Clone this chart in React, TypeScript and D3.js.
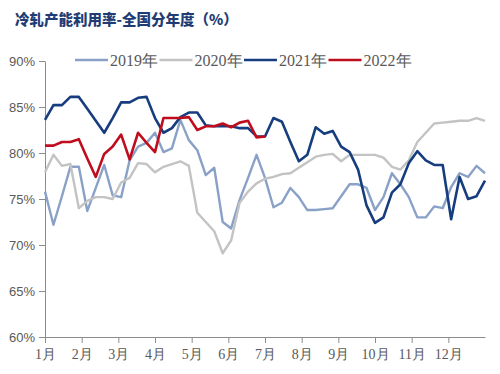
import { useEffect, useRef } from 'react';
import * as d3 from 'd3';

// weekly utilisation rate (%), week index 0..52
const months = ['1月', '2月', '3月', '4月', '5月', '6月', '7月', '8月', '9月', '10月', '11月', '12月'];
const yTicks = [60, 65, 70, 75, 80, 85, 90];
const seriesNames = ['2019年', '2020年', '2021年', '2022年'];
const seriesColors = ['#8aa1c7', '#c3c3c3', '#163d7e', '#c00d1e'];

const y2019 = [
  75.8, 72.2, 75.3, 78.5, 78.5, 73.7, 76.2, 78.7, 75.4, 75.2, 79.2, 80.7, 81.1, 82.2,
  80.1, 80.5, 83.6, 81.4, 80.3, 77.6, 78.4, 72.5, 71.8, 74.9, 77.3, 79.8, 77.3, 74.1,
  74.6, 76.2, 75.2, 73.8, 73.8, 73.9, 74.0, 75.3, 76.6, 76.6, 76.2, 73.8, 75.2, 77.8,
  76.6, 75.2, 73.0, 73.0, 74.2, 74.0, 76.3, 77.8, 77.4, 78.6, 77.8,
];
const y2020 = [
  77.9, 79.8, 78.6, 78.8, 74.0, 74.8, 75.2, 75.2, 75.0, 76.8, 77.3, 78.9, 78.8, 77.9,
  78.5, 78.8, 79.1, 78.6, 73.5, 72.5, 71.5, 69.1, 70.5, 74.6, 75.8, 76.7, 77.2, 77.4,
  77.7, 77.8, 78.4, 79.0, 79.6, 79.8, 79.9, 79.1, 79.8, 79.8, 79.8, 79.8, 79.5, 78.5,
  78.2, 79.2, 81.2, 82.2, 83.2, 83.3, 83.4, 83.5, 83.5, 83.8, 83.5,
];
const y2021 = [
  83.6, 85.2, 85.2, 86.1, 86.1, 84.8, 83.5, 82.2, 83.8, 85.5, 85.5, 86.0, 86.1, 83.8,
  82.2, 82.7, 83.9, 84.4, 84.4, 83.0, 82.9, 82.9, 82.9, 82.7, 82.7, 81.8, 81.8, 83.8,
  83.4, 81.2, 79.1, 79.8, 82.8, 82.1, 82.4, 80.7, 80.1, 78.2, 74.3, 72.4, 73.0, 75.7,
  76.6, 78.9, 80.2, 79.2, 78.7, 78.7, 72.8, 77.4, 75.0, 75.3, 77.0,
];
const y2022 = [
  80.8, 80.8, 81.2, 81.2, 81.5, 79.4, 77.4, 79.9, 80.7, 82.0, 79.3, 82.2, 81.1, 80.1,
  83.8, 83.8, 83.8, 83.9, 82.5, 82.9, 82.9, 83.2, 82.8, 83.3, 83.5, 81.7, 81.8,
];

const App = () => {
  const chartRef = useRef<SVGSVGElement | null>(null);

  useEffect(() => {
    if (!chartRef.current) return;
    const svg = d3.select(chartRef.current);
    svg.selectAll('*').remove();

    const width = 500;
    const height = 374;
    const margin = { top: 61, right: 15, bottom: 37, left: 45 };
    const axisColor = '#8c8c8c';
    const textColor = '#595959';

    svg.attr('width', width).attr('height', height);

    const x = d3.scaleLinear().domain([0, 52]).range([margin.left, width - margin.right]);
    const y = d3.scaleLinear().domain([60, 90]).range([height - margin.bottom, margin.top]);

    // Title
    svg.append('text')
      .attr('x', 15)
      .attr('y', 25)
      .style('font-family', '"Noto Sans CJK SC", sans-serif')
      .style('font-weight', 900)
      .style('font-size', '14.5px')
      .attr('fill', '#1f3d74')
      .text('冷轧产能利用率-全国分年度（%）');

    // Y axis
    const yAxis = svg.append('g')
      .attr('transform', `translate(${margin.left},0)`)
      .call(d3.axisLeft(y).tickValues(yTicks).tickFormat(d => `${d}%`).tickSize(6).tickSizeOuter(0).tickPadding(4));
    yAxis.select('.domain').attr('stroke', axisColor);
    yAxis.selectAll('.tick line').attr('stroke', axisColor);
    yAxis.selectAll('.tick text')
      .attr('fill', textColor)
      .style('font-family', '"Liberation Sans", sans-serif')
      .style('font-size', '13px');

    // X axis
    const monthPos = months.map((_, i) => (i * 52) / 12);
    const xAxis = svg.append('g')
      .attr('transform', `translate(0,${height - margin.bottom})`)
      .call(d3.axisBottom(x).tickValues(monthPos).tickFormat((_, i) => months[i]).tickSize(6).tickSizeOuter(0).tickPadding(6));
    xAxis.select('.domain').attr('stroke', axisColor);
    xAxis.selectAll('.tick line').attr('stroke', axisColor);
    xAxis.selectAll('.tick text')
      .attr('fill', textColor)
      .style('font-family', '"Liberation Serif", serif')
      .style('font-size', '14px');

    // Lines
    const allSeries = [y2019, y2020, y2021, y2022];
    const line = d3.line<number>()
      .x((_, i) => x(i))
      .y(d => y(d));

    allSeries.forEach((vals, k) => {
      svg.append('path')
        .datum(vals)
        .attr('fill', 'none')
        .attr('stroke', seriesColors[k])
        .attr('stroke-width', k >= 2 ? 2.6 : 2.4)
        .attr('stroke-linejoin', 'round')
        .attr('d', line);
    });

    // Legend
    const legend = svg.append('g').attr('transform', 'translate(75,60)');
    seriesNames.forEach((name, k) => {
      const item = legend.append('g').attr('transform', `translate(${k * 84.5},0)`);
      item.append('line')
        .attr('x1', 0).attr('x2', 33)
        .attr('y1', 0).attr('y2', 0)
        .attr('stroke', seriesColors[k])
        .attr('stroke-width', 2.6);
      item.append('text')
        .attr('x', 35)
        .attr('y', 5.5)
        .attr('fill', textColor)
        .style('font-family', '"Liberation Serif", serif')
        .style('font-size', '16px')
        .text(name);
    });
  }, []);

  return (
    <div style={{ position: 'absolute', left: 0, top: 0 }}>
      <svg ref={chartRef}></svg>
    </div>
  );
};

export default App;
